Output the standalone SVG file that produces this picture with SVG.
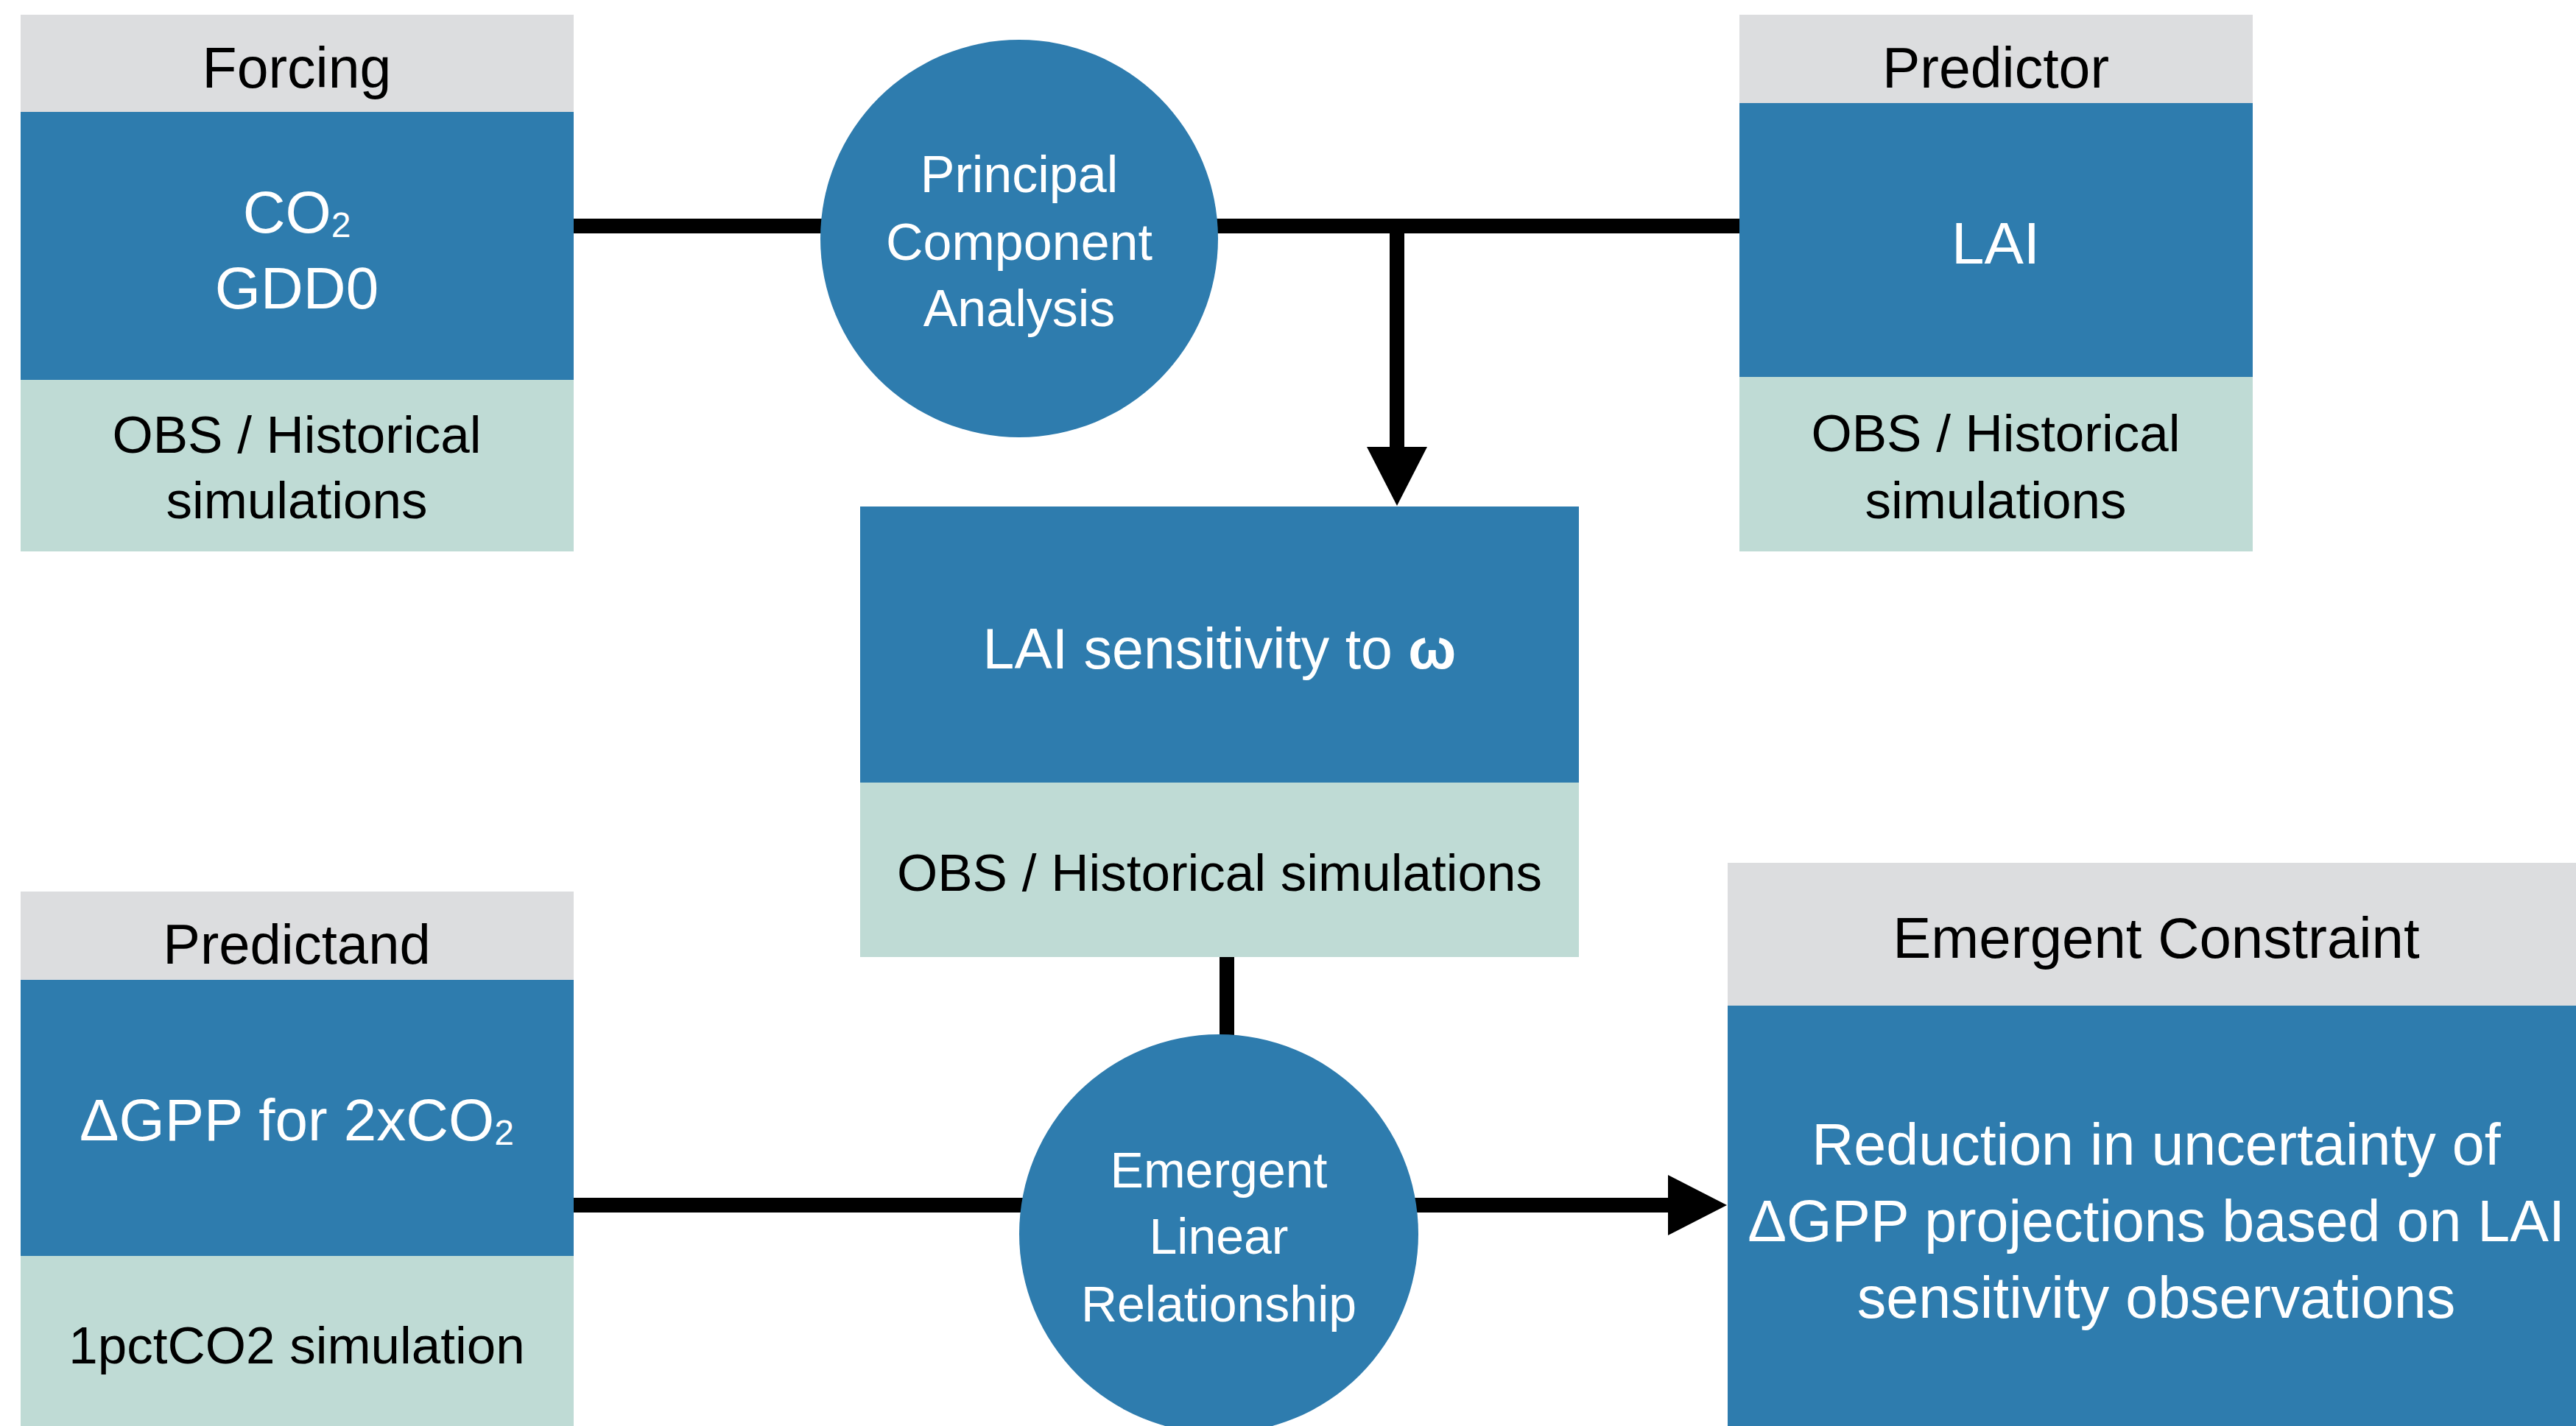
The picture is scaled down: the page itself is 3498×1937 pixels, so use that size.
<svg xmlns="http://www.w3.org/2000/svg" width="3498" height="1937" viewBox="0 0 3498 1937">
<style>
.hdr{fill:#DCDDDF}
.blu{fill:#2E7CAE}
.tea{fill:#BFDBD5}
.t{font-family:"Liberation Sans",Arial,sans-serif;text-anchor:middle}
.dk{fill:#000}
.wh{fill:#fff}
.ln{stroke:#000;stroke-width:20;fill:none;stroke-linecap:butt}
</style>
<defs>
<marker id="ah" markerUnits="userSpaceOnUse" markerWidth="82" markerHeight="82" refX="0" refY="41" orient="auto" viewBox="0 0 82 82">
<path d="M0,0 L80,41 L0,82 z" fill="#000"/>
</marker>
</defs>
<rect width="3498" height="1937" fill="#fff"/>
<g id="connectors">
<line class="ln" x1="779" y1="307" x2="1120" y2="307"/>
<line class="ln" x1="1650" y1="307" x2="2362" y2="307"/>
<line class="ln" x1="1897" y1="307" x2="1897" y2="607" marker-end="url(#ah)"/>
<line class="ln" x1="1666" y1="1300" x2="1666" y2="1410"/>
<line class="ln" x1="779" y1="1637" x2="1390" y2="1637"/>
<line class="ln" x1="1920" y1="1637" x2="2265" y2="1637" marker-end="url(#ah)"/>
</g>
<g id="forcing">
<rect class="hdr" x="28" y="20" width="751" height="132"/>
<rect class="blu" x="28" y="152" width="751" height="364"/>
<rect class="tea" x="28" y="516" width="751" height="233"/>
<text class="t dk" x="403" y="119" font-size="77">Forcing</text>
<text class="t wh" x="403" y="316" font-size="80">CO<tspan font-size="48" dy="6">2</tspan></text>
<text class="t wh" x="403" y="419" font-size="80">GDD0</text>
<text class="t dk" x="403" y="615" font-size="71">OBS / Historical</text>
<text class="t dk" x="403" y="704" font-size="71">simulations</text>
</g>
<g id="pca">
<circle class="blu" cx="1384" cy="324" r="270"/>
<text class="t wh" x="1384" y="261" font-size="70">Principal</text>
<text class="t wh" x="1384" y="353" font-size="70">Component</text>
<text class="t wh" x="1384" y="443" font-size="70">Analysis</text>
</g>
<g id="predictor">
<rect class="hdr" x="2362" y="20" width="697" height="120"/>
<rect class="blu" x="2362" y="140" width="697" height="372"/>
<rect class="tea" x="2362" y="512" width="697" height="237"/>
<text class="t dk" x="2710" y="119" font-size="77">Predictor</text>
<text class="t wh" x="2710" y="358" font-size="80">LAI</text>
<text class="t dk" x="2710" y="613" font-size="71">OBS / Historical</text>
<text class="t dk" x="2710" y="704" font-size="71">simulations</text>
</g>
<g id="sensitivity">
<rect class="blu" x="1168" y="688" width="976" height="375"/>
<rect class="tea" x="1168" y="1063" width="976" height="237"/>
<text class="t wh" x="1656" y="908" font-size="77">LAI sensitivity to <tspan font-weight="bold">ω</tspan></text>
<text class="t dk" x="1656" y="1210" font-size="71">OBS / Historical simulations</text>
</g>
<g id="predictand">
<rect class="hdr" x="28" y="1211" width="751" height="120"/>
<rect class="blu" x="28" y="1331" width="751" height="375"/>
<rect class="tea" x="28" y="1706" width="751" height="231"/>
<text class="t dk" x="403" y="1309" font-size="76">Predictand</text>
<text class="t wh" x="403" y="1549" font-size="80">ΔGPP for 2xCO<tspan font-size="48" dy="6">2</tspan></text>
<text class="t dk" x="403" y="1852" font-size="71">1pctCO2 simulation</text>
</g>
<g id="elr">
<circle class="blu" cx="1655" cy="1676" r="271"/>
<text class="t wh" x="1655" y="1613" font-size="68">Emergent</text>
<text class="t wh" x="1655" y="1703" font-size="68">Linear</text>
<text class="t wh" x="1655" y="1795" font-size="68">Relationship</text>
</g>
<g id="constraint">
<rect class="hdr" x="2346" y="1172" width="1170" height="194"/>
<rect class="blu" x="2346" y="1366" width="1170" height="571"/>
<text class="t dk" x="2928" y="1301" font-size="78">Emergent Constraint</text>
<text class="t wh" x="2928" y="1582" font-size="79">Reduction in uncertainty of</text>
<text class="t wh" x="2928" y="1686" font-size="79">ΔGPP projections based on LAI</text>
<text class="t wh" x="2928" y="1790" font-size="79">sensitivity observations</text>
</g>
</svg>
